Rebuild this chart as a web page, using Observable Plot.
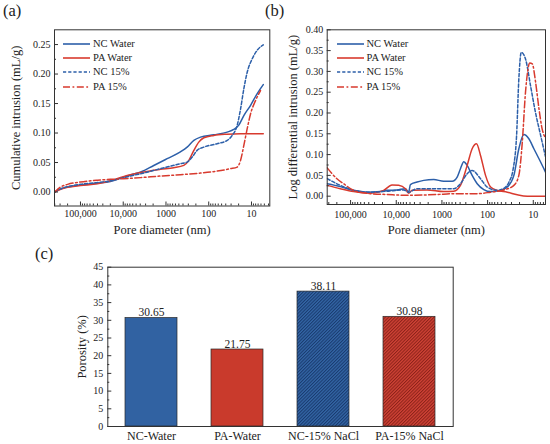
<!DOCTYPE html>
<html><head><meta charset="utf-8">
<script src="https://cdn.jsdelivr.net/npm/d3@7"></script>
<script src="https://cdn.jsdelivr.net/npm/@observablehq/plot@0.6"></script>
<style>
body{margin:0;background:#fff;}
#wrap, #wrap *, #wrap svg text{font-family:"Liberation Serif","DejaVu Serif","Times New Roman",serif !important;}
#wrap{position:relative;width:550px;height:444px;overflow:hidden;background:#fff;}
.panel{position:absolute;}
.plabel{position:absolute;font-size:16.5px;color:#222;line-height:1;}
.legend{position:absolute;font-size:10.5px;color:#222;}
.legend .row{position:absolute;left:0;white-space:nowrap;height:14px;line-height:14px;display:flex;align-items:center;}
.legend svg{display:block;margin-right:3px;}
</style></head>
<body>
<svg width="0" height="0" style="position:absolute">
 <defs>
  <pattern id="hatchBlue" patternUnits="userSpaceOnUse" width="2.3" height="2.3" patternTransform="rotate(45)">
    <rect width="2.3" height="2.3" fill="#3466a6"/>
    <line x1="0.5" y1="0" x2="0.5" y2="2.3" stroke="#183a6e" stroke-width="1"/>
  </pattern>
  <pattern id="hatchRed" patternUnits="userSpaceOnUse" width="2.3" height="2.3" patternTransform="rotate(45)">
    <rect width="2.3" height="2.3" fill="#d04336"/>
    <line x1="0.5" y1="0" x2="0.5" y2="2.3" stroke="#8c2219" stroke-width="1"/>
  </pattern>
 </defs>
</svg>
<div id="wrap">
  <div id="pa" class="panel" style="left:0;top:0"></div>
  <div id="pb" class="panel" style="left:275px;top:0"></div>
  <div id="pc" class="panel" style="left:0;top:240px"></div>
  <div id="legA" class="legend" style="left:63px;top:0"></div>
  <div id="legB" class="legend" style="left:336.5px;top:0"></div>
  <div class="plabel" style="left:3px;top:3px">(a)</div>
  <div class="plabel" style="left:265px;top:3px">(b)</div>
  <div class="plabel" style="left:35px;top:246px">(c)</div>
</div>
<script>
// ---------- data ----------
const seriesNames = ["NC Water", "PA Water", "NC 15%", "PA 15%"];

// (a) cumulative intrusion: [pore diameter nm, mL/g]
const ncWaterCum = [[400000,0],[300000,0.005],[200000,0.0085],[100000,0.012],[40000,0.015],[20000,0.018],[10000,0.025],[6000,0.03],[3900,0.034],[1930,0.045],[940,0.0565],[460,0.068],[320,0.076],[223,0.0875],[156,0.093],[76,0.097],[37,0.1016],[26,0.106],[20,0.113],[15,0.13],[10.5,0.147],[7.4,0.1665],[5.3,0.182]];
const paWaterCum = [[400000,0],[300000,0.004],[200000,0.008],[100000,0.011],[40000,0.014],[20000,0.019],[10000,0.026],[6000,0.03],[3900,0.033],[1350,0.0384],[660,0.0413],[383,0.0452],[292,0.0537],[223,0.0706],[171,0.0846],[130,0.092],[76,0.096],[37,0.098],[18,0.0988],[5.3,0.0988]];
const nc15Cum = [[400000,0],[300000,0.005],[200000,0.009],[100000,0.013],[40000,0.016],[20000,0.019],[10000,0.024],[6000,0.028],[3900,0.031],[1350,0.0395],[460,0.048],[320,0.0508],[244,0.0592],[187,0.0706],[130,0.0762],[64,0.0818],[37,0.0875],[28.3,0.096],[21.6,0.113],[18,0.141],[15.1,0.175],[12.6,0.203],[9.6,0.226],[7.4,0.24],[5.3,0.2495]];
const pa15Cum = [[400000,0],[300000,0.008],[200000,0.013],[100000,0.017],[40000,0.02],[20000,0.0215],[10000,0.0225],[3900,0.0244],[1350,0.0271],[460,0.0294],[156,0.0322],[64,0.0355],[31,0.0396],[21.6,0.0423],[18,0.0537],[15.1,0.079],[12.6,0.1073],[10.5,0.1327],[8.05,0.155],[6.15,0.172]];

// (b) log differential intrusion: [pore diameter nm, mL/g]
const ncWaterDiff = [[325000,0.030],[168000,0.023],[86000,0.014],[43600,0.0096],[22300,0.011],[15900,0.014],[9600,0.015],[6300,0.018],[5350,0.0096],[4900,0.028],[3500,0.034],[2500,0.038],[1510,0.040],[914,0.036],[597,0.036],[464,0.046],[393,0.066],[332,0.083],[280,0.074],[218,0.050],[169,0.030],[121,0.016],[86,0.011],[52,0.014],[37,0.022],[26.6,0.050],[20.7,0.114],[16.1,0.148],[12.5,0.138],[9.7,0.114],[7.5,0.090],[5.4,0.058]];
const paWaterDiff = [[325000,0.026],[168000,0.018],[86000,0.011],[37000,0.007],[18900,0.014],[12400,0.027],[8850,0.026],[6300,0.018],[5350,0.007],[4500,0.014],[2110,0.015],[914,0.011],[551,0.012],[393,0.026],[280,0.074],[218,0.114],[175,0.126],[143,0.098],[111,0.050],[86,0.022],[61.5,0.014],[37,0.0096],[22.4,0.0034],[13.5,0],[5.4,0]];
const nc15Diff = [[325000,0.042],[168000,0.026],[86000,0.014],[37000,0.0096],[15900,0.012],[6890,0.015],[5350,0.0096],[3500,0.018],[1510,0.018],[551,0.018],[393,0.030],[280,0.054],[218,0.062],[143,0.042],[102,0.022],[61.5,0.014],[44,0.019],[34,0.034],[27.5,0.066],[23.2,0.146],[20.7,0.282],[18.3,0.346],[14.8,0.330],[11.5,0.266],[8.9,0.200],[6.9,0.146],[5.4,0.095]];
const pa15Diff = [[325000,0.068],[199000,0.042],[142000,0.030],[86000,0.014],[37000,0.006],[15900,0.004],[5800,0.002],[1270,0.004],[551,0.006],[169,0.006],[86,0.0096],[44,0.015],[26.6,0.026],[20.7,0.050],[17.4,0.130],[14.8,0.250],[11.9,0.320],[10.5,0.318],[8.9,0.274],[7.5,0.210],[6.4,0.162],[5.4,0.140]];

// axes ticks
const xMajor = [100000, 10000, 1000, 100, 10];
const yMajorA = [0, 0.05, 0.10, 0.15, 0.20, 0.25];
const yMajorB = [0, 0.05, 0.10, 0.15, 0.20, 0.25, 0.30, 0.35, 0.40];
const yMajorC = [0, 5, 10, 15, 20, 25, 30, 35, 40, 45];

// (c) porosity
const categories = ["NC-Water", "PA-Water", "NC-15% NaCl", "PA-15% NaCl"];
const porosity = [30.65, 21.75, 38.11, 30.98];

// ---------- styles ----------
const FONT = '"Liberation Serif","DejaVu Serif","Times New Roman",serif';
const BLUE = "#2c5fa9", RED = "#d83a2e", AXIS = "#333";
const lineStyles = {
  "NC Water": {stroke: BLUE, dash: null},
  "PA Water": {stroke: RED, dash: null},
  "NC 15%": {stroke: BLUE, dash: "3.2,2"},
  "PA 15%": {stroke: RED, dash: "7,2.5,1.8,2.5"}
};
const barFill = {"NC-Water": "#3162a2", "PA-Water": "#c93a2c", "NC-15% NaCl": "url(#hatchBlue)", "PA-15% NaCl": "url(#hatchRed)"};

const fmtX = d => d >= 10000 ? d3.format(",")(d) : String(d);
const mids = arr => arr.slice(1).map((v, i) => (v + arr[i]) / 2);

function curvePanel({series, xDomain, yDomain, yMajor, yFmt, ylabel, W, H, mL, mR, mT, mB, xPad, yLabOff, xLabOff}) {
  const pw = W - mL - mR, ph = H - mT - mB;
  const lo = Math.min(...xDomain), hi = Math.max(...xDomain);
  const xMinor = d3.range(0, 6).flatMap(k => d3.range(2, 10).map(m => m * 10 ** k)).filter(v => v > lo && v < hi);
  const yMinor = mids(yMajor);
  return Plot.plot({
    width: W, height: H, marginLeft: mL, marginRight: mR, marginTop: mT, marginBottom: mB,
    style: {fontFamily: FONT, fontSize: "10px", color: "#222", background: "transparent", overflow: "visible"},
    x: {type: "log", domain: xDomain, label: null},
    y: {domain: yDomain, label: null},
    marks: [
      ...series.map(([name, data]) => Plot.line(data, {
        x: d => d[0], y: d => d[1], stroke: lineStyles[name].stroke,
        strokeDasharray: lineStyles[name].dash, strokeWidth: 1.5, curve: "monotone-x", clip: true
      })),
      Plot.tickX(xMinor, {x: d => d, insetTop: ph - 2, stroke: AXIS}),
      Plot.tickX(xMajor, {x: d => d, insetTop: ph - 4, stroke: AXIS}),
      Plot.tickY(yMinor, {y: d => d, insetRight: pw - 2, stroke: AXIS}),
      Plot.tickY(yMajor, {y: d => d, insetRight: pw - 4, stroke: AXIS}),
      Plot.frame({stroke: AXIS, strokeWidth: 1}),
      Plot.axisX({ticks: xMajor, tickSize: 0, tickPadding: xPad, tickFormat: fmtX, label: null, fontSize: 10, fontFamily: FONT}),
      Plot.axisY({ticks: yMajor, tickSize: 0, tickPadding: 4, tickFormat: yFmt, label: null, fontSize: 10, fontFamily: FONT}),
      Plot.text(["Pore diameter (nm)"], {frameAnchor: "bottom", dy: xLabOff, lineAnchor: "middle", textAnchor: "middle", fontSize: 12.5, fontFamily: FONT}),
      Plot.text([ylabel], {frameAnchor: "left", dx: -yLabOff, rotate: -90, lineAnchor: "top", textAnchor: "middle", fontSize: 12.5, fontFamily: FONT})
    ]
  });
}

document.getElementById("pa").append(curvePanel({
  series: [["NC Water", ncWaterCum], ["PA Water", paWaterCum], ["NC 15%", nc15Cum], ["PA 15%", pa15Cum]],
  xDomain: [4.05e5, 3.73], yDomain: [-0.0237, 0.275], yMajor: yMajorA, yFmt: d3.format(".2f"),
  ylabel: "Cumulative intrusion (mL/g)", W: 275, H: 245, mL: 54, mR: 5.7, mT: 29.3, mB: 39.5,
  xPad: 4, yLabOff: 43, xLabOff: 24
}));
document.getElementById("pb").append(curvePanel({
  series: [["NC Water", ncWaterDiff], ["PA Water", paWaterDiff], ["NC 15%", nc15Diff], ["PA 15%", pa15Diff]],
  xDomain: [3.25e5, 5.4], yDomain: [-0.02, 0.40], yMajor: yMajorB, yFmt: d3.format(".2f"),
  ylabel: "Log differential intrusion (mL/g)", W: 275, H: 245, mL: 51.7, mR: 5, mT: 29.3, mB: 41,
  xPad: 6, yLabOff: 39, xLabOff: 25
}));

// legends
function legend(id, rowsY) {
  const el = document.getElementById(id);
  seriesNames.forEach((name, i) => {
    const row = document.createElement("div");
    row.className = "row";
    row.style.top = (rowsY[i] - 7) + "px";
    const st = lineStyles[name];
    row.innerHTML = `<svg width="27" height="6"><line x1="0" y1="3" x2="27" y2="3" stroke="${st.stroke}" stroke-width="1.6" ${st.dash ? `stroke-dasharray="${st.dash}"` : ""}/></svg><span>${name}</span>`;
    el.append(row);
  });
}
legend("legA", [44, 58.2, 72.4, 86.6]);
legend("legB", [43.5, 58, 72.2, 87]);

// (c) bar chart
const table = categories.map((c, i) => ({cat: c, val: porosity[i]}));
const cW = 550, cH = 204, cL = 107.3, cR = 97.3, cT = 26.7, cB = 18;
const cpw = cW - cL - cR;
document.getElementById("pc").append(Plot.plot({
  width: cW, height: cH, marginLeft: cL, marginRight: cR, marginTop: cT, marginBottom: cB,
  style: {fontFamily: FONT, fontSize: "10px", color: "#222", background: "transparent", overflow: "visible"},
  x: {domain: categories, paddingInner: 0.39, paddingOuter: 0.195, label: null},
  y: {domain: [0, 45], label: null},
  color: {type: "identity"},
  marks: [
    Plot.barY(table, {x: "cat", y: "val", fill: d => barFill[d.cat], stroke: "#2a2a2a", strokeWidth: 0.7}),
    Plot.text(table, {x: "cat", y: "val", text: d => d.val.toFixed(2), lineAnchor: "bottom", dy: -1.5, fontSize: 11.5, fontFamily: FONT}),
    Plot.tickY(mids(yMajorC), {y: d => d, insetRight: cpw - 2, stroke: AXIS}),
    Plot.tickY(yMajorC, {y: d => d, insetRight: cpw - 4, stroke: AXIS}),
    Plot.frame({stroke: AXIS, strokeWidth: 1}),
    Plot.axisX({tickSize: 0, tickPadding: 5, label: null, fontSize: 12, fontFamily: FONT}),
    Plot.axisY({ticks: yMajorC, tickSize: 0, tickPadding: 4.5, label: null, fontSize: 10, fontFamily: FONT}),
    Plot.text(["Porosity (%)"], {frameAnchor: "left", dx: -30.6, rotate: -90, lineAnchor: "top", textAnchor: "middle", fontSize: 12.5, fontFamily: FONT})
  ]
}));
</script>
</body></html>
